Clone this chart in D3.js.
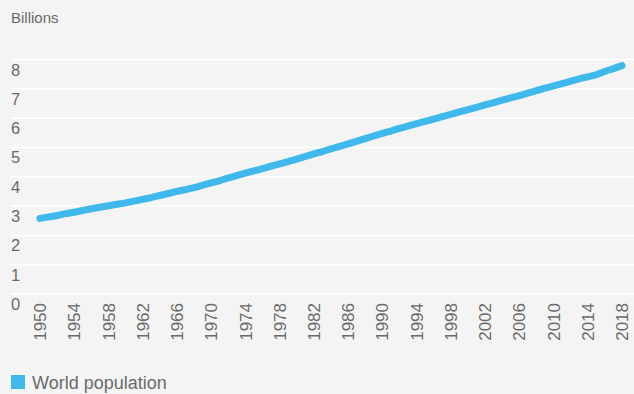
<!DOCTYPE html>
<html>
<head>
<meta charset="utf-8">
<script src="https://cdn.jsdelivr.net/npm/d3@7"></script>
<style>
  html, body { margin: 0; padding: 0; background: #f4f4f4; }
  svg { display: block; }
  text { font-family: "Liberation Sans", Arial, Helvetica, sans-serif; fill: #6a6a6a; }
</style>
</head>
<body>
<svg id="chart" width="634" height="394"></svg>
<script>
const years = d3.range(1950, 2019);
const population = [
  2.58, 2.63, 2.68, 2.74, 2.79, 2.85, 2.91, 2.96, 3.01, 3.06,
  3.11, 3.17, 3.23, 3.29, 3.36, 3.43, 3.50, 3.56, 3.63, 3.71,
  3.79, 3.87, 3.96, 4.04, 4.12, 4.20, 4.28, 4.36, 4.44, 4.52,
  4.60, 4.69, 4.78, 4.86, 4.95, 5.04, 5.12, 5.21, 5.30, 5.39,
  5.48, 5.56, 5.65, 5.73, 5.81, 5.89, 5.97, 6.05, 6.13, 6.21,
  6.29, 6.37, 6.45, 6.53, 6.61, 6.69, 6.77, 6.85, 6.94, 7.02,
  7.10, 7.18, 7.26, 7.34, 7.41, 7.48, 7.59, 7.69, 7.79
];
const xTickYears = d3.range(1950, 2019, 4);
const yTicks = [0, 1, 2, 3, 4, 5, 6, 7, 8];
const unitLabel = "Billions";
const seriesName = "World population";
const lineColor = "#3fb8ec";

const svg = d3.select("#chart");
const W = 634;

const x = d3.scaleLinear().domain([1950, 2018]).range([40, 622]);
const y = d3.scaleLinear().domain([0, 8]).range([294, 59.5]);

svg.append("rect").attr("width", W).attr("height", 394).attr("fill", "#f4f4f4");

svg.append("text").attr("x", 11).attr("y", 23).style("font-size", "15px").text(unitLabel);

const yAxis = svg.append("g");
yTicks.forEach(t => {
  yAxis.append("line")
    .attr("x1", 11).attr("x2", W)
    .attr("y1", y(t)).attr("y2", y(t))
    .attr("stroke", "#ffffff").attr("stroke-width", 1.5);
  yAxis.append("text")
    .attr("x", 11).attr("y", y(t) + 16)
    .style("font-size", "16.5px")
    .text(t);
});

const xAxis = svg.append("g");
xTickYears.forEach(yr => {
  xAxis.append("text")
    .attr("transform", `translate(${x(yr)},303) rotate(-90)`)
    .attr("text-anchor", "end")
    .attr("dy", "0.36em")
    .style("font-size", "17px")
    .text(yr);
});

const data = years.map((yr, i) => ({ yr, v: population[i] }));
svg.append("path")
  .datum(data)
  .attr("fill", "none")
  .attr("stroke", lineColor)
  .attr("stroke-width", 7)
  .attr("stroke-linecap", "round")
  .attr("stroke-linejoin", "round")
  .attr("d", d3.line().x(d => x(d.yr)).y(d => y(d.v)).curve(d3.curveMonotoneX));

svg.append("rect").attr("x", 11).attr("y", 375).attr("width", 14).attr("height", 14).attr("fill", lineColor);
svg.append("text").attr("x", 32).attr("y", 389).style("font-size", "18px").text(seriesName);
</script>
</body>
</html>
